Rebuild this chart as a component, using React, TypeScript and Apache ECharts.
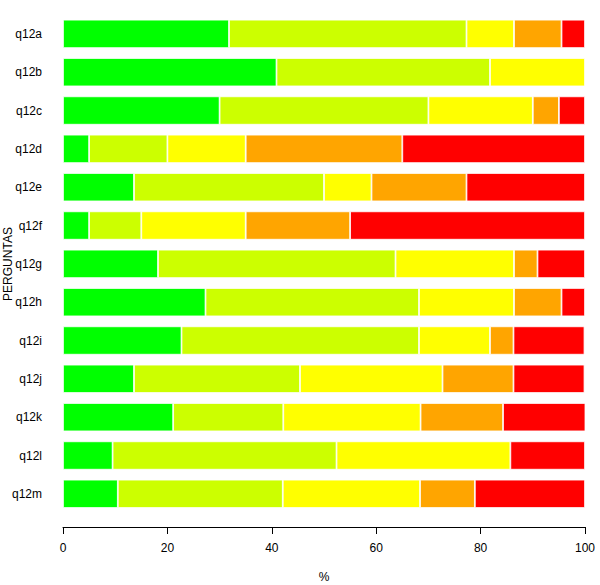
import React, { useEffect, useRef } from "react";
import * as echarts from "echarts";

const categories = ["q12a", "q12b", "q12c", "q12d", "q12e", "q12f", "q12g", "q12h", "q12i", "q12j", "q12k", "q12l", "q12m"];
const levelGreen = [31.8, 40.9, 30, 5, 13.6, 5, 18.2, 27.3, 22.7, 13.6, 21.1, 9.5, 10.5];
const levelLime = [45.5, 40.9, 40, 15, 36.4, 10, 45.5, 40.9, 45.5, 31.8, 21.1, 42.9, 31.6];
const levelYellow = [9.1, 18.2, 20, 15, 9.1, 20, 22.7, 18.2, 13.6, 27.3, 26.3, 33.3, 26.3];
const levelOrange = [9.1, 0, 5, 30, 18.2, 20, 4.5, 9.1, 4.5, 13.6, 15.8, 0, 10.5];
const levelRed = [4.5, 0, 5, 35, 22.7, 45, 9.1, 4.5, 13.6, 13.6, 15.8, 14.3, 21.1];
const xTicks = [0, 20, 40, 60, 80, 100];

const seriesDefs = [
  { name: "1", data: levelGreen, color: "#00FF00" },
  { name: "2", data: levelLime, color: "#CCFF00" },
  { name: "3", data: levelYellow, color: "#FFFF00" },
  { name: "4", data: levelOrange, color: "#FFA500" },
  { name: "5", data: levelRed, color: "#FF0000" },
];

export default function App() {
  const ref = useRef<HTMLDivElement>(null);
  useEffect(() => {
    document.body.style.margin = "0";
    const chart = echarts.init(ref.current!, null, { renderer: "svg" });
    const font = "Liberation Sans, Arial, sans-serif";
    chart.setOption({
      animation: false,
      backgroundColor: "#ffffff",
      grid: { left: 63, right: 15, top: 14.7, bottom: 72, containLabel: false, outerBoundsMode: "none" },
      graphic: [
        {
          type: "text",
          x: 8,
          y: 264,
          rotation: Math.PI / 2,
          style: {
            text: "PERGUNTAS",
            fill: "#000",
            fontSize: 12,
            fontFamily: font,
            textAlign: "center",
            textVerticalAlign: "middle",
          },
        },
      ],
      xAxis: {
        type: "value",
        min: xTicks[0],
        max: xTicks[xTicks.length - 1],
        interval: 20,
        offset: 14,
        splitLine: { show: false },
        axisLine: { show: true, lineStyle: { color: "#000", width: 1 } },
        axisTick: { show: true, length: 7, lineStyle: { color: "#000" } },
        axisLabel: { color: "#000", fontSize: 12, fontFamily: font, margin: 15 },
        name: "%",
        nameLocation: "middle",
        nameGap: 44,
        nameTextStyle: { color: "#000", fontSize: 12, fontFamily: font },
      },
      yAxis: {
        type: "category",
        data: categories,
        inverse: true,
        axisLine: { show: false },
        axisTick: { show: false },
        axisLabel: { color: "#000", fontSize: 12, fontFamily: font, margin: 21 },
      },
      series: seriesDefs.map((s) => ({
        type: "bar",
        name: s.name,
        stack: "total",
        data: s.data.map((v) => (v === 0 ? null : v)),
        barCategoryGap: "26%",
        itemStyle: { color: s.color, borderColor: "#ffffff", borderWidth: 0.8 },
        emphasis: { disabled: true },
      })),
    });
    return () => chart.dispose();
  }, []);
  return <div ref={ref} style={{ width: 600, height: 585 }} />;
}
